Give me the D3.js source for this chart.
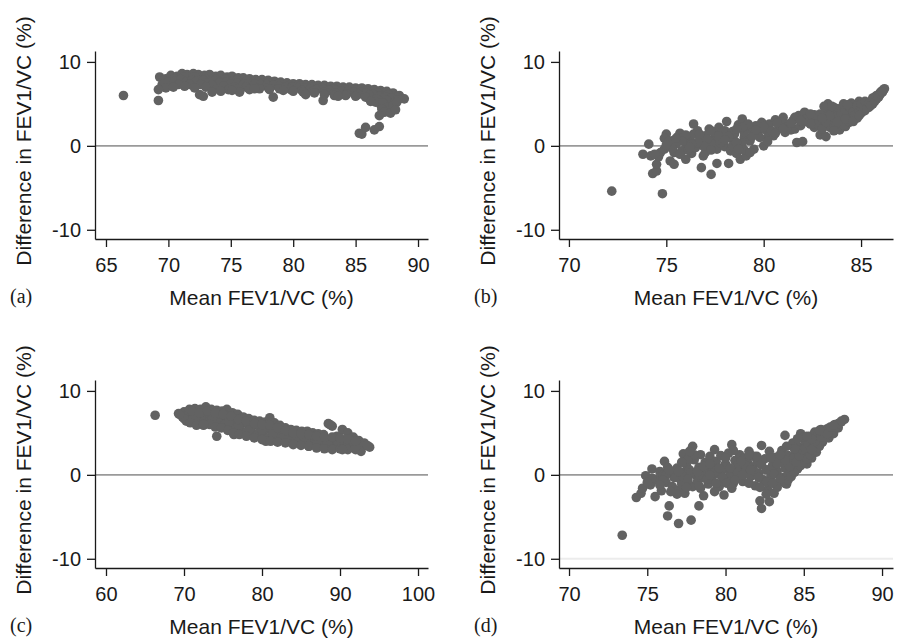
<!DOCTYPE html>
<html>
<head>
<meta charset="utf-8">
<script src="https://cdn.jsdelivr.net/npm/d3@7"></script>
<style>
  body { margin: 0; background: #fff; overflow: hidden; }
  .tick text { font-family: "Liberation Sans", Arial, sans-serif; font-size: 20px; fill: #1a1a1a; }
  .title { font-family: "Liberation Sans", Arial, sans-serif; font-size: 21px; fill: #1a1a1a; }
  .letter { font-family: "Liberation Serif", "Times New Roman", serif; font-size: 20px; fill: #1a1a1a; }
</style>
</head>
<body>
<script>
// values: [mean FEV1/VC, difference]
const pointsA = [
  [69.3,8.2],[69.8,8.0],[70.2,8.4],[70.7,8.3],[71.1,8.6],[71.5,8.5],[72.0,8.6],[72.4,8.5],[72.9,8.4],[73.3,8.5],
  [73.8,8.3],[74.2,8.4],[74.7,8.2],[75.1,8.3],[75.6,8.1],[76.0,8.1],[76.5,8.0],[77.0,7.9],[77.5,7.9],[78.0,7.8],
  [78.5,7.7],[79.0,7.6],[79.5,7.5],[80.0,7.4],[80.5,7.4],[81.0,7.3],[81.5,7.3],[82.0,7.2],[82.5,7.2],[83.0,7.1],
  [83.5,7.1],[84.0,7.0],[84.5,7.0],[85.0,6.9],[85.5,6.9],[86.0,6.8],[86.5,6.7],[87.0,6.6],[87.5,6.5],[88.0,6.3],
  [88.5,6.0],[88.9,5.6],
  [69.6,7.8],[70.4,8.0],[71.2,8.2],[72.1,8.2],[72.9,8.0],[73.8,7.9],[74.6,7.9],[75.5,7.8],[76.3,7.7],[77.2,7.6],
  [78.0,7.5],[78.9,7.4],[79.7,7.2],[80.6,7.1],[81.5,7.0],[82.3,6.9],[83.2,6.8],[84.1,6.7],[85.0,6.6],[85.9,6.5],
  [86.8,6.3],[87.6,6.1],[88.3,5.8],
  [69.5,7.3],[70.0,7.6],[70.5,7.7],[71.0,7.9],[71.4,7.6],[71.9,7.8],[72.3,7.7],[72.8,7.8],[73.2,7.5],[73.7,7.7],
  [74.1,7.5],[74.6,7.6],[75.0,7.4],[75.5,7.5],[76.0,7.3],[76.4,7.4],[76.9,7.3],[77.4,7.3],[77.9,7.2],[78.4,7.2],
  [78.9,7.1],[79.4,7.0],[79.9,7.0],[80.4,6.9],[80.9,6.9],[81.4,6.8],[81.9,6.7],[82.4,6.7],[82.9,6.6],[83.4,6.6],
  [83.9,6.5],[84.4,6.5],[84.9,6.4],[85.4,6.4],[85.9,6.3],[86.4,6.1],[86.9,5.9],[87.4,5.8],[87.9,5.7],[88.4,5.5],
  [70.8,7.3],[71.7,7.3],[72.6,7.3],[73.5,7.2],[74.4,7.1],[75.3,7.0],[76.2,7.0],[77.1,6.9],[78.0,6.9],[78.9,6.8],
  [79.8,6.7],[80.7,6.6],[81.6,6.5],[82.5,6.4],[83.4,6.3],[84.3,6.2],[85.2,6.1],[86.1,6.0],[86.7,5.6],[87.5,5.4],
  [88.1,5.1],[87.9,4.5],[87.5,4.3],[87.0,4.9],[86.6,5.2],
  [69.8,6.9],[70.4,7.0],[71.3,7.1],[72.1,6.9],[73.0,7.0],[73.9,6.8],[74.8,6.7],[75.6,6.8],[76.5,6.7],[77.3,6.8],
  [78.1,6.7],[79.2,6.6],[80.0,6.5],[80.8,6.4],[81.7,6.3],[82.5,6.1],[83.3,6.0],[84.2,6.0],[85.0,5.9],[85.8,5.8],
  [86.2,5.3],[87.2,5.1],[87.6,4.6],[88.0,4.8],[88.3,5.2],[87.1,4.4],[87.3,4.0],[87.8,3.9],[88.2,4.3],
  [66.4,6.0],[69.2,5.4],[69.2,6.7],[72.5,6.1],[72.8,5.9],[73.5,6.4],[74.2,6.5],[75.7,6.4],[78.4,5.8],[81.0,6.1],
  [82.4,5.4],[85.3,1.5],[85.5,1.4],[85.8,2.2],[86.5,1.9],[86.9,2.3],[86.9,3.6],[75.1,6.6],[76.9,6.8],[83.6,5.9]
];

const pointsB = [
  [72.2,-5.4],[74.8,-5.7],[73.8,-1.0],[74.1,0.2],[74.2,-1.2],[74.3,-3.3],[74.5,-3.0],[74.5,-2.2],[74.7,-0.8],[74.9,-0.4],
  [75.0,1.4],[74.9,0.9],[75.2,-1.8],[75.4,-2.2],[75.3,0.6],[75.6,1.1],[75.8,-0.6],[75.7,1.5],[75.5,0.2],[76.0,0.3],
  [76.2,0.9],[76.3,-0.9],[76.4,2.6],[76.6,1.8],[76.5,-0.2],[76.7,0.6],[76.8,-2.6],[76.9,-1.2],[77.0,1.2],[77.1,0.2],
  [77.2,2.0],[77.3,-3.4],[77.4,0.8],[77.5,1.6],[77.6,-0.4],[77.6,-2.1],[77.7,2.2],[77.8,0.3],[77.9,1.0],[78.0,-0.1],
  [78.1,2.9],[78.2,-2.1],[78.3,-0.6],[78.4,0.8],[78.5,1.4],[78.6,-0.9],[78.7,2.5],[78.8,-1.6],[78.9,3.2],[79.0,1.0],
  [79.1,-1.2],[79.2,2.0],[79.3,0.6],[79.5,-0.4],[79.6,2.4],[79.7,1.5],[79.9,2.8],[80.0,0.0],[80.1,1.9],[80.3,2.6],
  [80.5,1.2],[80.6,3.1],[80.8,2.2],[81.0,3.4],[81.1,1.6],[81.3,2.6],[81.5,3.0],[81.6,2.0],[81.7,0.4],[81.8,3.6],
  [81.9,2.4],[82.0,0.5],[82.1,4.0],[82.3,2.8],[82.5,3.4],[82.6,2.2],[82.8,3.1],[82.9,1.3],[83.0,2.6],[83.1,3.6],
  [83.2,1.1],[83.3,5.0],[83.3,4.3],[83.4,2.2],[83.5,3.2],[83.6,2.6],[83.7,3.9],[83.8,4.4],[83.9,1.9],[84.0,3.0],
  [84.1,3.6],[84.2,2.3],[84.3,4.1],[84.4,2.8],[84.5,5.1],[84.6,3.4],[84.7,4.5],[84.8,3.3],[84.9,5.3],[85.0,3.9],
  [85.1,4.5],[85.2,4.2],[85.3,5.0],[85.4,4.6],[85.5,5.3],[85.6,5.0],[85.7,5.8],[85.8,5.6],[85.9,6.1],[86.0,6.4],
  [86.1,6.6],[86.2,6.8],
  [75.9,1.0],[76.1,-0.5],[76.8,0.9],[77.3,1.8],[77.8,1.5],[78.4,0.0],[78.9,0.3],[75.1,0.5],[75.4,-0.8],[76.4,1.4],
  [77.0,-0.8],[77.5,0.6],[78.0,1.8],[79.4,1.1],[80.2,1.0],[80.9,2.8],[81.4,1.9],[82.2,3.2],[82.7,2.6],[83.3,3.2],
  [83.8,3.4],[84.3,3.5],[84.8,4.0],[85.2,4.8],[85.6,5.4],[84.6,4.9],[84.0,4.5],[83.5,4.0],[82.9,3.8],[76.0,-1.6],
  [75.7,-1.0],
  [83.0,2.0],[83.2,2.8],[83.4,3.6],[83.6,4.6],[83.7,2.3],[83.9,2.7],[84.0,3.8],[84.1,2.5],[84.2,4.3],[84.3,3.0],
  [84.4,4.6],[84.5,3.2],[84.6,4.0],[84.7,3.7],[84.8,4.8],[84.9,4.1],[85.0,4.4],[85.0,5.0],[85.1,4.1],[85.2,5.3],
  [85.3,4.5],[85.4,5.1],[85.5,4.8],[85.6,5.7],[85.7,5.3],[85.8,6.0],[85.9,5.8],[86.0,6.2],[86.1,6.4],[83.1,4.7],
  [83.5,4.7],[84.1,5.0],[84.3,4.9],[82.6,3.7],[82.4,2.6],[82.0,2.8],[81.6,3.4],[81.2,2.2],[80.7,2.7],[80.4,1.8],
  [80.0,2.3],[79.8,1.0],[79.6,1.9],[79.2,2.6],[79.0,1.6],[78.9,2.2],[78.6,0.4],[78.4,1.7],[78.2,1.1],[77.9,0.5],
  [77.7,1.2],[77.3,0.3],[77.1,0.8],[76.9,0.0],[76.6,0.4],[76.3,0.2],[76.0,1.3],[75.8,0.6],[75.5,0.9],[75.3,-0.3],
  [75.0,0.1],[74.6,-1.3],[74.4,-1.0],[76.2,-0.2],[76.7,1.4],[77.3,-0.5],[78.0,0.7],[78.6,2.0],[79.0,-0.5],[79.3,-0.8],
  [78.7,-0.4],[80.2,0.5],[80.6,1.5],[81.0,2.0],[81.4,2.7],[81.9,3.0],[82.4,3.8],[83.0,3.3],[83.6,1.8],[83.8,2.9],
  [84.2,3.2],[84.6,2.9],[84.9,3.6]
];

const pointsC = [
  [69.3,7.3],[70.0,7.5],[70.7,7.8],[71.4,7.9],[72.1,7.8],[72.8,8.1],[73.5,7.8],[74.2,7.7],[74.9,7.6],[75.5,7.8],
  [76.2,7.4],[76.9,7.2],[77.6,6.9],[78.3,6.7],[79.0,6.5],[79.7,6.4],[80.4,6.3],[81.0,6.8],[81.6,6.2],[82.3,5.9],
  [83.0,5.6],[83.7,5.4],[84.4,5.3],[85.1,5.2],[85.8,5.2],[86.5,5.0],[87.2,4.9],[87.9,4.8],[88.5,6.1],[89.0,5.8],
  [89.6,4.6],[90.3,5.4],[91.0,5.0],[91.7,4.5],[92.4,4.1],[93.1,3.8],[93.8,3.3],
  [69.8,6.9],[70.5,7.1],[71.2,7.2],[71.9,7.0],[72.6,7.2],[73.3,7.1],[74.0,6.9],[74.7,6.9],[75.4,6.8],[76.1,6.6],
  [76.8,6.4],[77.5,6.2],[78.2,6.0],[78.9,5.9],[79.6,5.8],[80.3,5.6],[81.0,5.4],[81.7,5.3],[82.4,5.1],[83.1,4.9],
  [83.8,4.8],[84.5,4.7],[85.2,4.6],[85.9,4.5],[86.6,4.4],[87.3,4.3],[88.0,4.2],[88.7,4.2],[89.4,4.1],[90.1,4.0],
  [90.8,3.9],[91.5,3.8],[92.2,3.6],[92.9,3.4],
  [70.3,6.4],[71.0,6.5],[71.7,6.3],[72.4,6.4],[73.1,6.3],[73.8,6.1],[74.5,6.2],[75.2,6.0],[75.9,5.8],[76.6,5.4],
  [77.3,5.3],[78.0,5.1],[78.7,4.9],[79.4,4.9],[80.1,4.8],[80.8,4.4],[81.5,4.5],[82.2,4.3],[82.9,4.2],[83.6,4.1],
  [84.3,3.9],[85.0,3.9],[85.7,3.8],[86.4,3.7],[87.1,3.5],[87.8,3.4],[88.5,3.5],[89.2,3.3],[89.9,3.5],[90.6,3.2],
  [91.3,3.3],[92.0,3.0],[92.7,2.8],
  [71.5,6.9],[73.6,6.7],[75.8,6.3],[77.0,5.9],[78.5,5.5],[80.0,5.3],[81.4,4.9],[82.8,4.6],[84.2,4.4],[85.6,4.2],
  [87.0,3.9],[88.4,3.8],[89.8,3.8],[91.1,3.6],[76.4,4.8],[80.5,4.0],[86.0,3.4],
  [70.0,6.7],[70.8,6.2],[71.6,5.9],[72.5,5.9],[73.3,6.0],[74.0,5.7],[74.8,5.6],[75.6,5.3],[76.3,5.0],[77.1,4.8],
  [78.0,4.6],[79.0,4.4],[80.0,4.2],[81.1,4.0],[82.0,3.9],[83.0,3.8],[84.0,3.6],[85.0,3.5],[86.0,3.4],[87.0,3.2],
  [88.0,3.1],[89.0,3.0],[90.0,3.1],[91.0,3.0],[92.0,3.3],[93.5,3.5],
  [71.0,7.6],[72.0,7.4],[73.0,7.6],[74.0,7.4],[75.0,7.2],[76.0,7.0],[77.0,6.6],[78.0,6.4],[79.0,6.1],[80.0,6.0],
  [81.0,5.9],[82.0,5.6],[83.0,5.3],[84.0,5.0],[85.0,4.9],[86.0,4.8],[87.0,4.6],[88.0,4.5],[89.0,4.5],[90.0,4.4],
  [91.0,4.3],[92.0,4.0],
  [66.3,7.1],[74.2,4.6],[88.7,6.0],[69.4,7.2],[72.5,6.0],[90.3,3.0]
];

const pointsD = [
  [73.4,-7.2],[74.3,-2.7],[74.6,-2.2],[74.7,-1.6],[74.9,-0.1],[75.2,-1.2],[75.3,0.7],[75.5,-2.6],[75.6,-0.6],[75.8,0.4],
  [75.9,-1.9],[76.1,1.6],[76.0,0.0],[76.2,-0.9],[76.3,-4.9],[76.4,-3.7],[76.5,0.3],[76.6,-1.4],[76.7,-0.3],[76.9,0.8],
  [77.0,-5.8],[77.0,-1.8],[77.1,-0.5],[77.2,0.3],[77.3,2.5],[77.4,-2.2],[77.5,1.2],[77.6,-0.9],[77.7,0.6],[77.8,-5.4],
  [77.9,3.4],[77.9,-1.4],[78.0,1.8],[78.1,0.0],[78.2,-0.8],[78.3,-3.7],[78.3,0.9],[78.4,2.4],[78.5,-0.3],[78.6,-2.5],
  [78.7,1.5],[78.8,0.4],[78.9,-1.1],[79.0,2.2],[79.1,-0.5],[79.2,0.9],[79.3,-2.0],[79.4,1.6],[79.5,0.1],[79.6,-1.4],
  [79.7,2.3],[79.8,0.6],[79.9,-2.4],[80.0,1.3],[80.1,-0.4],[80.2,2.6],[80.3,0.2],[80.4,3.6],[80.5,-1.0],[80.6,1.7],
  [80.7,0.5],[80.8,-0.3],[80.9,2.4],[81.0,1.0],[81.1,-0.8],[81.2,2.0],[81.3,0.3],[81.4,1.5],[81.5,2.8],[81.6,-0.2],
  [81.7,0.9],[81.8,2.2],[81.9,-1.3],[82.0,1.4],[82.1,0.2],[82.2,-3.1],[82.3,-4.0],[82.3,3.5],[82.4,-0.6],[82.5,1.9],
  [82.6,0.6],[82.7,-1.8],[82.8,-3.2],[82.8,2.8],[82.9,-0.2],[83.0,1.1],[83.1,-2.2],[83.2,2.1],[83.3,0.4],[83.4,-0.9],
  [83.5,1.6],[83.6,2.9],[83.7,-0.3],[83.8,4.7],[83.8,0.8],[83.9,-1.1],[84.0,2.3],[84.0,0.0],[84.2,1.2],[84.3,3.8],
  [84.4,0.4],[84.5,2.6],[84.6,1.0],[84.7,3.3],[84.8,4.9],[84.8,1.6],[85.0,2.2],[85.1,4.0],[85.2,1.3],[85.3,2.8],
  [85.4,4.6],[85.5,2.0],[85.6,3.4],[85.7,5.1],[85.8,2.7],[85.9,4.1],[86.0,3.4],[86.1,5.4],[86.2,3.9],[86.3,4.6],
  [86.5,5.5],[86.6,4.4],[86.8,5.2],[86.9,4.9],[87.0,6.0],[87.2,5.6],[87.4,6.3],[87.6,6.6],
  [77.2,-1.1],[78.4,-1.6],[79.9,-0.9],[80.8,1.2],[76.3,0.9],[77.6,1.9],[79.3,3.0],
  [83.8,-1.0],[84.0,-0.6],[84.2,-0.2],[84.4,0.3],[84.6,0.7],[84.8,1.1],[85.0,1.5],[85.2,1.9],[85.4,2.4],[85.6,2.8],
  [85.8,3.2],[86.0,3.7],[86.2,4.1],[86.4,4.5],[86.6,5.0],[86.8,5.4],[87.0,5.7],[87.2,6.1],[87.4,6.4],
  [84.1,1.0],[84.3,2.0],[84.5,1.5],[84.7,2.3],[84.9,3.0],[85.1,3.2],[85.3,3.7],[85.5,3.0],[85.7,4.0],[85.9,4.7],
  [86.1,4.5],[86.3,5.1],[86.5,4.9],[86.7,5.7],[86.9,5.9],[85.0,4.5],[85.5,4.3],[84.4,3.1],[83.9,3.4],[84.6,4.3],
  [85.2,4.6],[86.0,5.3],
  [76.2,0.0],[76.8,-0.3],[77.3,-0.2],[77.8,0.2],[78.3,0.0],[78.8,-0.5],[79.3,0.4],[79.8,-0.3],[80.3,0.8],[80.8,0.3],
  [81.3,1.1],[81.8,0.5],[82.3,1.2],[82.8,0.6],[83.3,1.3],[83.8,1.8],[76.0,-0.6],[76.4,0.6],[77.0,0.4],[77.6,-0.5],
  [78.2,0.4],[78.6,1.0],[79.0,0.0],[79.6,0.8],[80.1,-1.0],[80.6,-0.6],[81.1,0.0],[81.6,0.6],[82.1,-0.3],[82.6,-0.9],
  [83.1,0.1],[83.5,-0.5],[82.2,-1.5],[81.5,-1.0],[80.4,-1.6],[79.4,-1.0],[78.3,-1.3],[77.5,-1.5],[76.9,-2.3],[76.5,-2.0],
  [75.8,-1.2],[75.3,-0.4],[75.0,-0.9],[77.2,1.5],[78.0,2.4],[79.0,1.3],[80.0,2.0],[81.0,1.6],[82.0,2.2],[82.9,2.0],
  [83.5,2.4],[81.5,2.4],[80.5,2.9],[77.7,2.8],[83.3,-1.5],[82.6,-2.3],[83.0,-1.0]
];

const xTicksA = [65, 70, 75, 80, 85, 90];
const xTicksB = [70, 75, 80, 85];
const xTicksC = [60, 70, 80, 90, 100];
const xTicksD = [70, 75, 80, 85, 90];
const yTicks = [-10, 0, 10];
const panelLetters = ["(a)", "(b)", "(c)", "(d)"];
const xTitle = "Mean FEV1/VC (%)";
const yTitle = "Difference in FEV1/VC (%)";

const width = 897
const height = 639

const svg = d3.select("body").append("svg")
    .attr("width", width)
    .attr("height", height)

// panel frames (pixel boxes) and the value range each axis covers
const panels = [
    { left: 95, right: 428, top: 51, bottom: 239, xDomain: [64.12, 90.8], data: pointsA, ticks: xTicksA },
    { left: 559, right: 893, top: 51, bottom: 239, xDomain: [69.49, 86.64], data: pointsB, ticks: xTicksB },
    { left: 95, right: 428, top: 380, bottom: 568, xDomain: [58.59, 101.28], data: pointsC, ticks: xTicksC },
    { left: 559, right: 893, top: 380, bottom: 568, xDomain: [69.36, 90.7], data: pointsD, ticks: xTicksD, faintLine: true }
]

panels.forEach(function (p, i) {
    let x = d3.scaleLinear().domain(p.xDomain).range([p.left, p.right])
    let y = d3.scaleLinear().domain([-11.1, 11.3]).range([p.bottom, p.top])

    let g = svg.append("g")

    // faint reference line at -10 visible in panel (d)
    if (p.faintLine) {
        g.append("line")
            .attr("x1", p.left).attr("x2", p.right)
            .attr("y1", y(-10)).attr("y2", y(-10))
            .style("stroke", "#ececec")
            .style("stroke-width", 2)
    }

    // zero line
    g.append("line")
        .attr("x1", p.left).attr("x2", p.right)
        .attr("y1", y(0)).attr("y2", y(0))
        .style("stroke", "#9a9a9a")
        .style("stroke-width", 1.6)

    g.selectAll("circle")
        .data(p.data)
        .enter()
        .append("circle")
        .attr("cx", d => x(d[0]))
        .attr("cy", d => y(d[1]))
        .attr("r", 4.8)
        .attr("fill", "#626262")

    g.append("g")
        .attr("transform", "translate(0," + p.bottom + ")")
        .call(d3.axisBottom(x).tickValues(p.ticks).tickSizeInner(8).tickSizeOuter(0).tickPadding(11).tickFormat(d => String(d)))

    g.append("g")
        .attr("transform", "translate(" + p.left + ",0)")
        .call(d3.axisLeft(y).tickValues(yTicks).tickSizeInner(8).tickSizeOuter(0).tickPadding(6).tickFormat(d => String(d)))

    g.selectAll(".domain, .tick line")
        .style("stroke", "#1a1a1a")
        .style("stroke-width", 1.3)

    // axis titles
    g.append("text")
        .attr("class", "title")
        .attr("x", (p.left + p.right) / 2)
        .attr("y", p.bottom + 66)
        .attr("text-anchor", "middle")
        .text(xTitle)

    g.append("text")
        .attr("class", "title")
        .attr("transform", "translate(" + (p.left - 64) + "," + ((p.top + p.bottom) / 2 - 4) + ") rotate(-90)")
        .attr("text-anchor", "middle")
        .text(yTitle)

    // panel letter
    g.append("text")
        .attr("class", "letter")
        .attr("x", p.left - 85)
        .attr("y", p.bottom + 64)
        .text(panelLetters[i])
})
</script>
</body>
</html>
